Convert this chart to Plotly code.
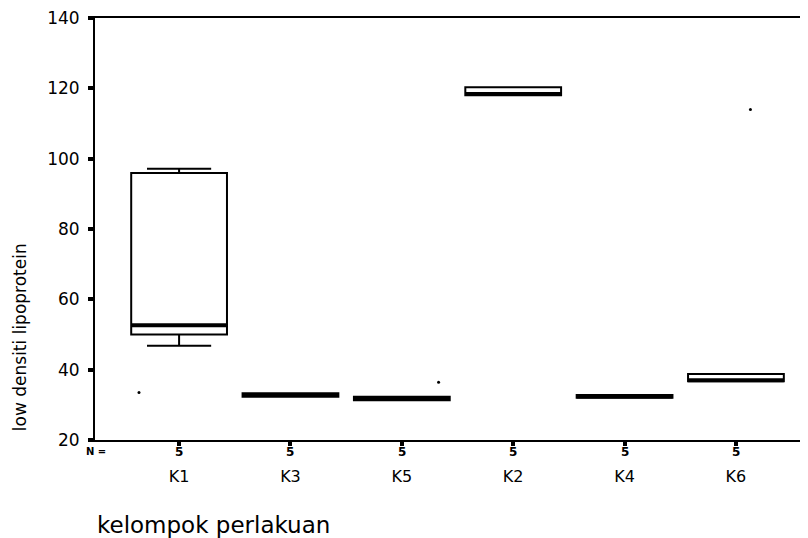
import plotly.graph_objects as go

categories = ["K1", "K3", "K5", "K2", "K4", "K6"]
n_counts = [5, 5, 5, 5, 5, 5]
q1 = [50.0, 32.3, 31.3, 118.0, 32.0, 36.7]
median = [52.6, 32.8, 31.8, 118.4, 32.4, 37.0]
q3 = [95.9, 33.3, 32.3, 120.3, 32.8, 38.8]
lower_whisker = [46.8, 32.3, 31.3, 118.0, 32.0, 36.7]
upper_whisker = [97.1, 33.3, 32.3, 120.3, 32.8, 38.8]

# stray points visible on the chart (category index, value)
dot_category = [0, 2, 5]
dot_offset = [-0.36, 0.33, 0.13]
dot_value = [33.5, 36.4, 114.0]

y_ticks = [20, 40, 60, 80, 100, 120, 140]

FONT = "DejaVu Sans, Liberation Sans, Arial, sans-serif"
positions = list(range(len(categories)))
BOX_W = 0.86

fig = go.Figure()
for i, cat in enumerate(categories):
    fig.add_trace(go.Box(
        x=[positions[i]],
        q1=[q1[i]], median=[median[i]], q3=[q3[i]],
        lowerfence=[lower_whisker[i]], upperfence=[upper_whisker[i]],
        width=BOX_W, whiskerwidth=0.67,
        fillcolor="white",
        line=dict(color="black", width=2),
        boxpoints=False, name=cat, showlegend=False,
    ))
    # thick median bar
    fig.add_trace(go.Scatter(
        x=[positions[i] - BOX_W / 2, positions[i] + BOX_W / 2],
        y=[median[i], median[i]], mode="lines",
        line=dict(color="black", width=4), showlegend=False, hoverinfo="skip",
    ))

fig.add_trace(go.Scatter(
    x=[dot_category[i] + dot_offset[i] for i in range(len(dot_category))],
    y=dot_value, mode="markers",
    marker=dict(color="black", size=3), showlegend=False,
))

annotations = []
for i, n in enumerate(n_counts):
    annotations.append(dict(x=positions[i], y=-0.0284, xref="x", yref="paper",
                            text=f"<b>{n}</b>", showarrow=False,
                            font=dict(family=FONT, size=12, color="black"),
                            xanchor="center", yanchor="middle"))
annotations.append(dict(x=0.0014, y=-0.0284, xref="paper", yref="paper", text="<b>N =</b>",
                        showarrow=False, font=dict(family=FONT, size=10, color="black"),
                        xanchor="center", yanchor="middle"))
annotations.append(dict(x=-0.105, y=0.244, xref="paper", yref="paper",
                        text="low densiti lipoprotein", textangle=-90, showarrow=False,
                        font=dict(family=FONT, size=17, color="black"),
                        xanchor="center", yanchor="middle"))
annotations.append(dict(x=0.0, y=-0.2014, xref="paper", yref="paper",
                        text="kelompok perlakuan", showarrow=False,
                        font=dict(family=FONT, size=23, color="black"),
                        xanchor="left", yanchor="middle"))

fig.update_layout(
    width=800, height=530,
    margin=dict(l=87, r=0, t=10, b=98),
    paper_bgcolor="white", plot_bgcolor="white",
    annotations=annotations,
    xaxis=dict(range=[-0.755, 5.647], tickvals=positions, ticktext=categories,
               showgrid=False, zeroline=False, showline=True, mirror=True,
               linecolor="black", linewidth=2, ticks="outside", ticklen=4,
               tickwidth=4, tickcolor="black", ticklabelstandoff=17,
               tickfont=dict(family=FONT, size=16, color="black")),
    yaxis=dict(range=[20, 140], tickvals=y_ticks, showgrid=False, zeroline=False,
               showline=True, linecolor="black", linewidth=2, ticks="outside",
               ticklen=5, tickwidth=4, tickcolor="black", ticklabelstandoff=5,
               ticklabeloverflow="allow",
               tickfont=dict(family=FONT, size=17, color="black")),
)

fig.write_html("out.html")
